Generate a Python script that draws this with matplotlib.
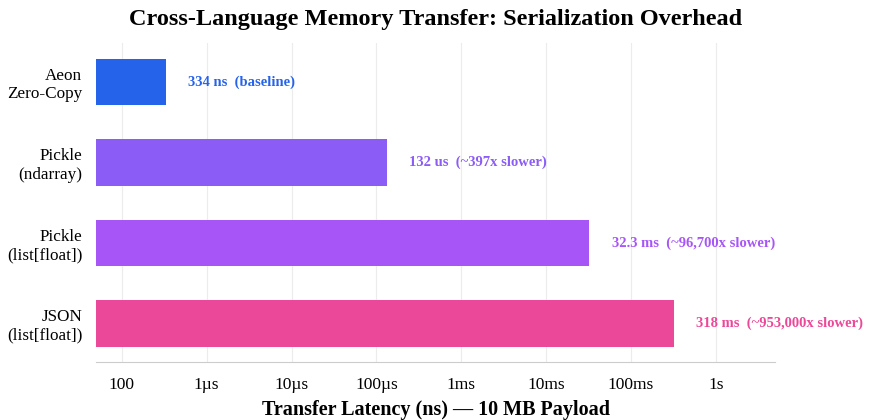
import matplotlib
matplotlib.use("Agg")
import matplotlib.pyplot as plt

methods = ["Aeon\nZero-Copy", "Pickle\n(ndarray)", "Pickle\n(list[float])", "JSON\n(list[float])"]
latency_ns = [334, 132_000, 32_300_000, 318_000_000]
labels = ["334 ns  (baseline)", "132 us  (~397x slower)",
          "32.3 ms  (~96,700x slower)", "318 ms  (~953,000x slower)"]
colors = ["#2563EB", "#8B5CF6", "#A855F7", "#EC4899"]

tick_values = [1e2, 1e3, 1e4, 1e5, 1e6, 1e7, 1e8, 1e9]
tick_labels = ["100", "1\u00b5s", "10\u00b5s", "100\u00b5s", "1ms", "10ms", "100ms", "1s"]


def plot() -> None:
    plt.rcParams["font.family"] = ["Liberation Serif", "DejaVu Serif"]
    fig, ax = plt.subplots(figsize=(8.75, 4.2), dpi=100)
    fig.subplots_adjust(left=0.11, right=0.886, top=0.897, bottom=0.138)

    ypos = range(len(methods))
    ax.barh(ypos, latency_ns, height=0.58, color=colors, zorder=3)
    for y, v, lab, c in zip(ypos, latency_ns, labels, colors):
        ax.annotate(lab, xy=(v, y), xytext=(16, 0), textcoords="offset points",
                    va="center", ha="left", color=c, fontsize=10.5, fontweight="bold")

    ax.set_xscale("log")
    ax.set_xlim(50, 5e9)
    ax.set_ylim(3.48, -0.48)
    ax.set_yticks(list(ypos))
    ax.set_yticklabels(methods, fontsize=12.3)
    ax.set_xticks(tick_values)
    ax.set_xticklabels(tick_labels, fontsize=12.5)
    ax.minorticks_off()
    ax.tick_params(length=0)
    ax.tick_params(axis="x", pad=11)
    ax.tick_params(axis="y", pad=10)

    ax.grid(axis="x", color="#ececec", linewidth=0.8, zorder=0)
    for side in ["top", "right", "left"]:
        ax.spines[side].set_visible(False)
    ax.spines["bottom"].set_color("#cccccc")

    ax.set_xlabel("Transfer Latency (ns) \u2014 10 MB Payload", fontsize=14.5,
                  fontweight="bold", labelpad=5)
    ax.set_title("Cross-Language Memory Transfer: Serialization Overhead",
                 fontsize=17.5, fontweight="bold", pad=13)
    fig.savefig("out.png")


if __name__ == "__main__":
    plot()
